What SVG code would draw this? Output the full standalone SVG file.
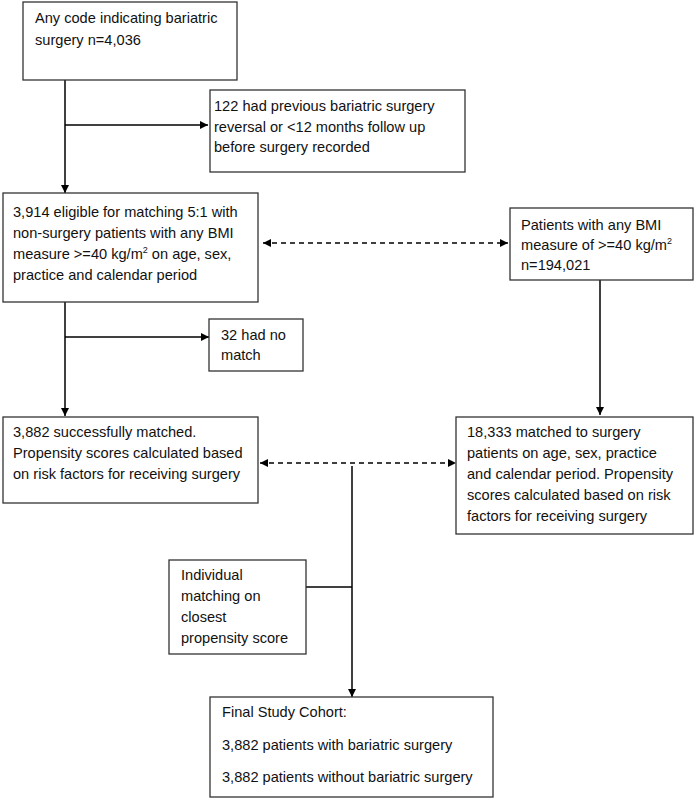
<svg xmlns="http://www.w3.org/2000/svg" width="696" height="800" viewBox="0 0 696 800">
<defs>
<style>
.b{fill:#fff;stroke:#333;stroke-width:1.3}
.t{font-family:"Liberation Sans",Arial,sans-serif;font-size:14.6px;fill:#111}
.l{stroke:#000;stroke-width:1.5;fill:none}
.d{stroke:#000;stroke-width:1.5;fill:none;stroke-dasharray:5,4}
</style>
<marker id="a" markerWidth="8" markerHeight="8" refX="8" refY="4" orient="auto-start-reverse" markerUnits="userSpaceOnUse"><path d="M0,0 L8,4 L0,8 Z" fill="#000"/></marker>
</defs>
<rect width="696" height="800" fill="#fff"/>
<g id="connectors">
<path class="l" d="M65,80 V193" marker-end="url(#a)"/>
<path class="l" d="M65,125 H208" marker-end="url(#a)"/>
<path class="d" d="M263,243 H508" marker-start="url(#a)" marker-end="url(#a)"/>
<path class="l" d="M600,280 V415" marker-end="url(#a)"/>
<path class="l" d="M65,302 V416" marker-end="url(#a)"/>
<path class="l" d="M65,337 H209" marker-end="url(#a)"/>
<path class="d" d="M260,463 H456" marker-start="url(#a)" marker-end="url(#a)"/>
<path class="l" d="M352,466 V697" marker-end="url(#a)"/>
<path class="l" d="M306,587 H352"/>
</g>
<g id="n1"><rect class="b" x="23" y="2" width="214" height="78"/>
<text class="t" x="35" y="23">Any code indicating bariatric</text><text class="t" x="35" y="45">surgery n=4,036</text></g>
<g id="n2"><rect class="b" x="210" y="90" width="255" height="82"/>
<text class="t" x="214" y="111">122 had previous bariatric surgery</text><text class="t" x="214" y="132">reversal or &lt;12 months follow up</text><text class="t" x="214" y="152">before surgery recorded</text></g>
<g id="n3"><rect class="b" x="3" y="193" width="255" height="109"/>
<text class="t" x="13" y="217">3,914 eligible for matching 5:1 with</text><text class="t" x="13" y="238">non-surgery patients with any BMI</text><text class="t" x="13" y="259">measure &gt;=40 kg/m<tspan font-size="9" dy="-6">2</tspan><tspan dy="6"> on age, sex,</tspan></text><text class="t" x="13" y="280">practice and calendar period</text></g>
<g id="n4"><rect class="b" x="510" y="208" width="183" height="72"/>
<text class="t" x="521" y="230">Patients with any BMI</text><text class="t" x="521" y="250">measure of &gt;=40 kg/m<tspan font-size="9" dy="-6">2</tspan></text><text class="t" x="521" y="270">n=194,021</text></g>
<g id="n5"><rect class="b" x="209" y="319" width="94" height="52"/>
<text class="t" x="221" y="340">32 had no</text><text class="t" x="221" y="360">match</text></g>
<g id="n6"><rect class="b" x="3" y="417" width="255" height="86"/>
<text class="t" x="13" y="437">3,882 successfully matched.</text><text class="t" x="13" y="458">Propensity scores calculated based</text><text class="t" x="13" y="479">on risk factors for receiving surgery</text></g>
<g id="n7"><rect class="b" x="456" y="417" width="237" height="117"/>
<text class="t" x="467" y="437">18,333 matched to surgery</text><text class="t" x="467" y="458">patients on age, sex, practice</text><text class="t" x="467" y="479">and calendar period. Propensity</text><text class="t" x="467" y="500">scores calculated based on risk</text><text class="t" x="467" y="521">factors for receiving surgery</text></g>
<g id="n8"><rect class="b" x="169" y="560" width="137" height="94"/>
<text class="t" x="181" y="580">Individual</text><text class="t" x="181" y="601">matching on</text><text class="t" x="181" y="622">closest</text><text class="t" x="181" y="643">propensity score</text></g>
<g id="n9"><rect class="b" x="210" y="697" width="283" height="100"/>
<text class="t" x="222" y="717">Final Study Cohort:</text><text class="t" x="222" y="750">3,882 patients with bariatric surgery</text><text class="t" x="222" y="782">3,882 patients without bariatric surgery</text></g>
</svg>
